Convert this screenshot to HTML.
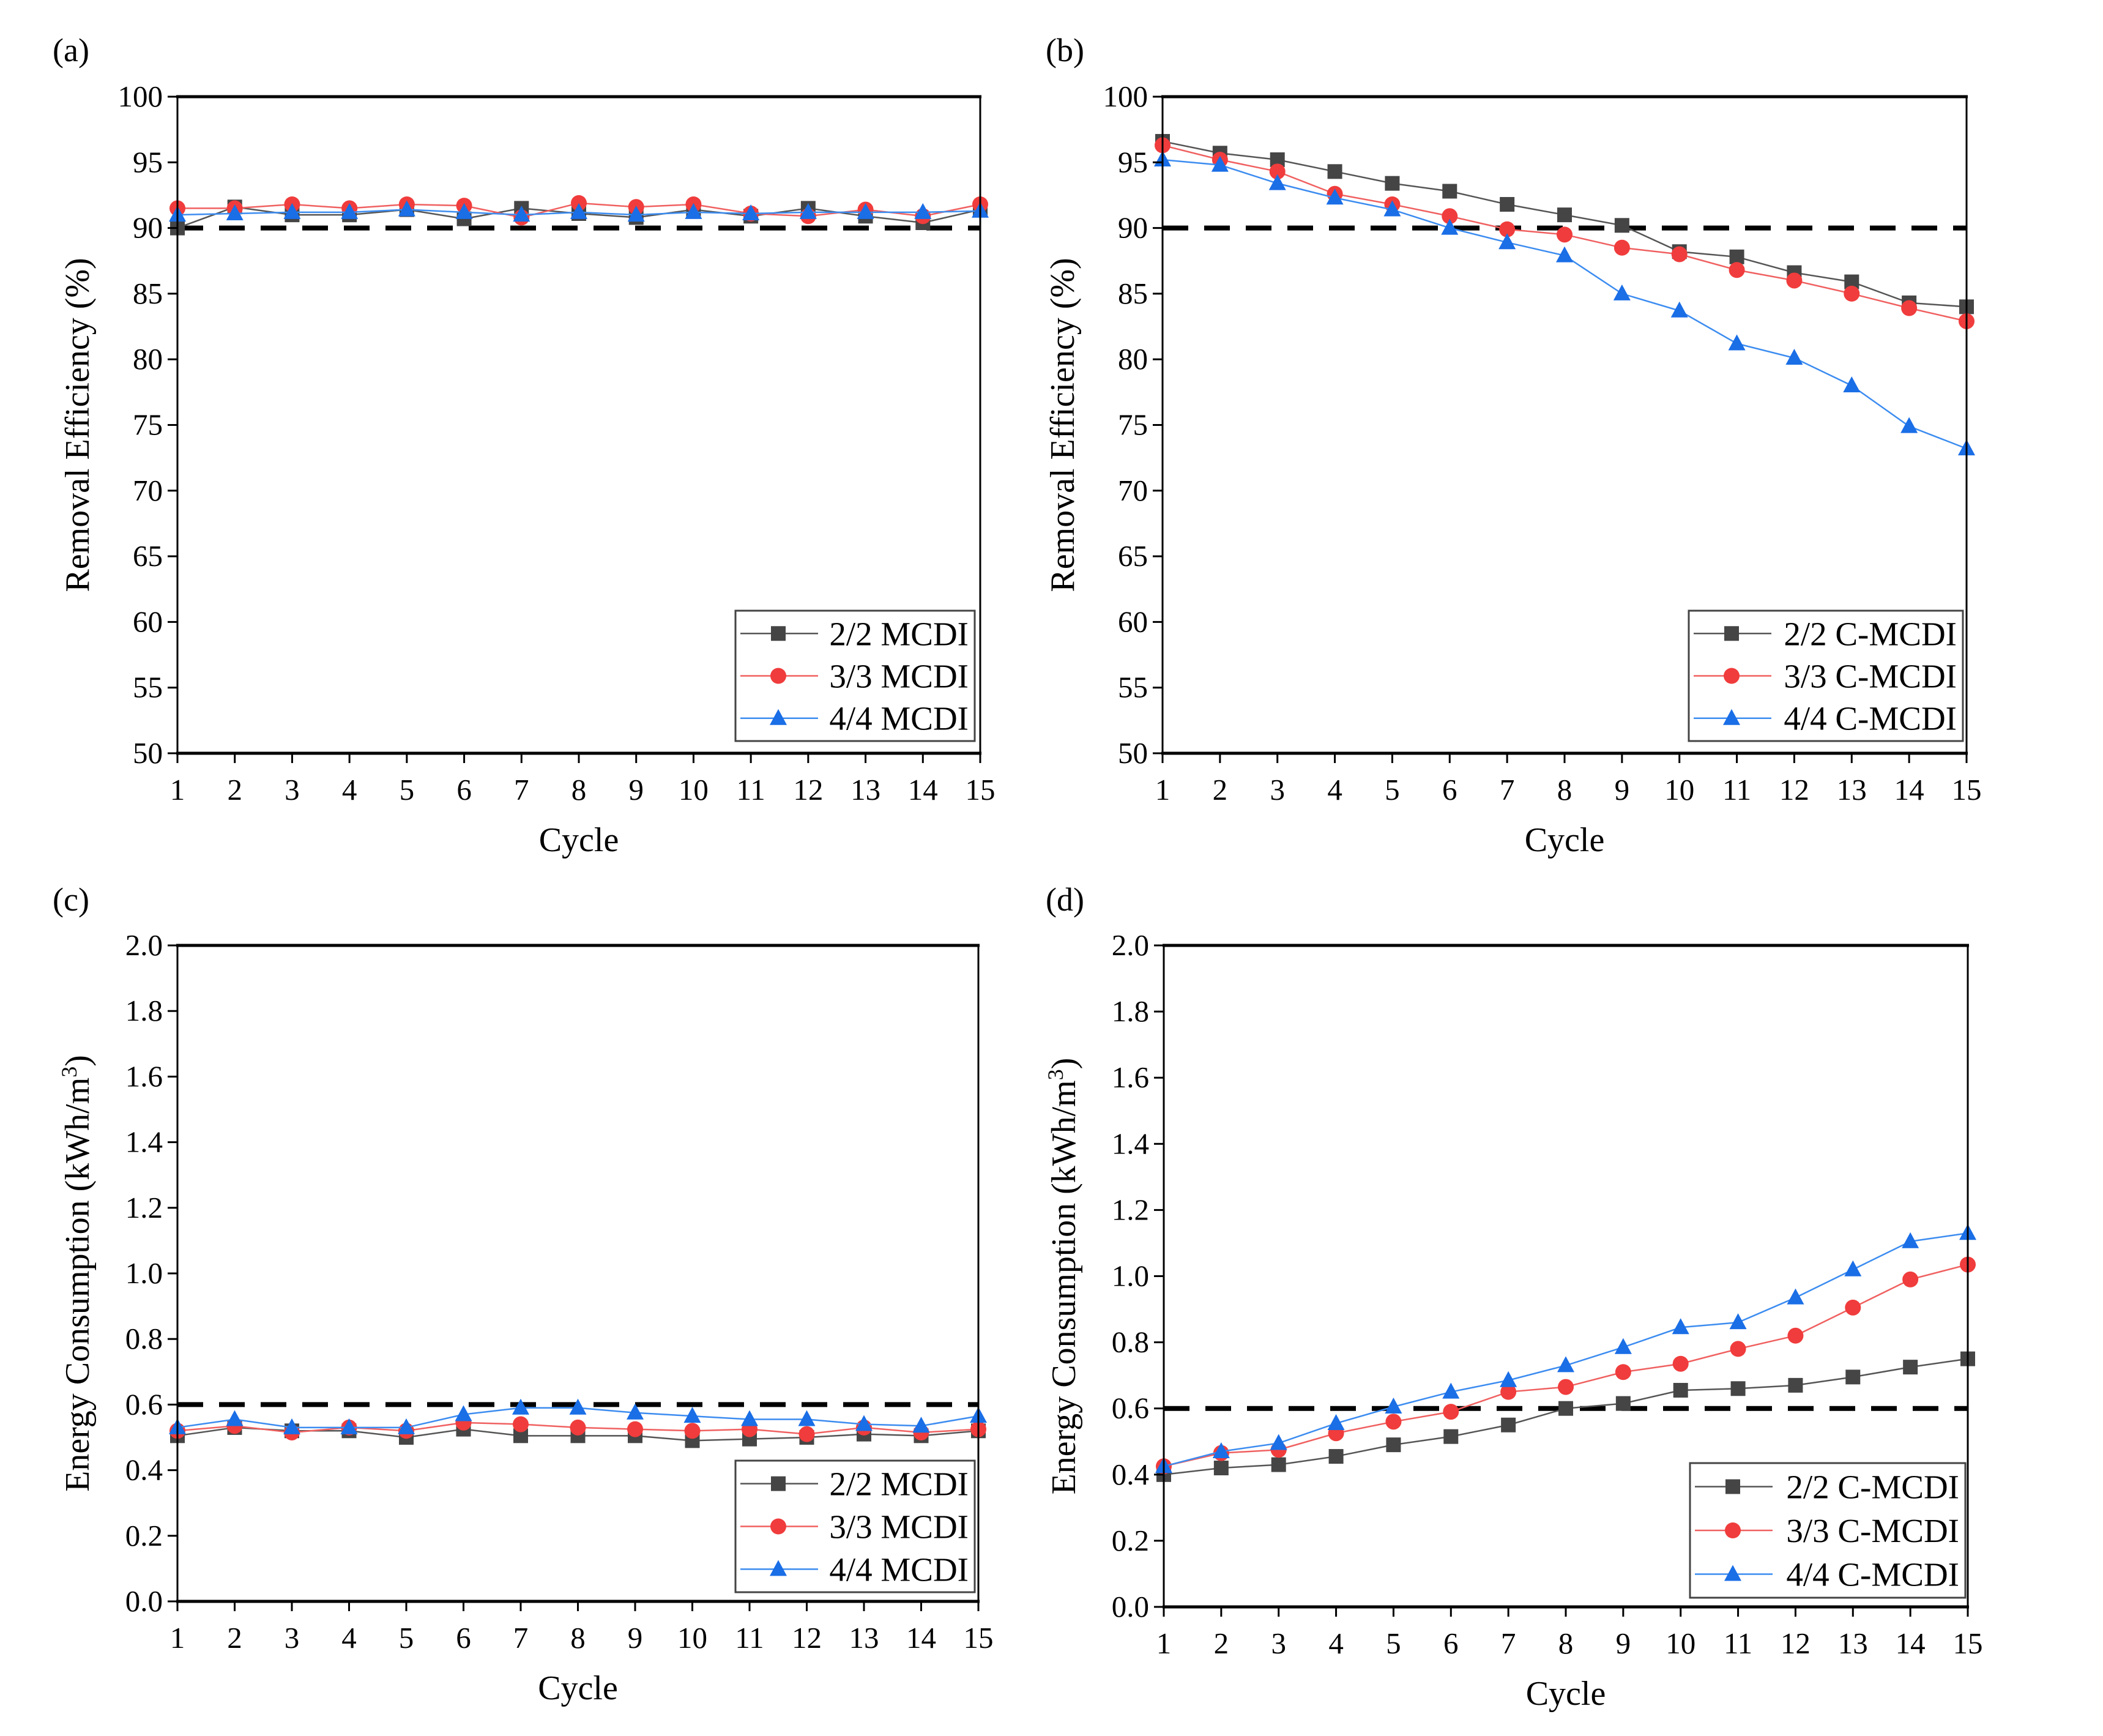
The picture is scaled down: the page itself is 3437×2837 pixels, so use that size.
<!DOCTYPE html>
<html><head><meta charset="utf-8"><style>
html,body{margin:0;padding:0;background:#fff;}
svg{display:block;font-family:"Liberation Serif",serif;}
</style></head><body>
<svg id="fig" width="3437" height="2837" viewBox="0 0 3437 2837" xmlns="http://www.w3.org/2000/svg"></svg>
<script>
const cycles=[1,2,3,4,5,6,7,8,9,10,11,12,13,14,15];
const a22=[90.0,91.6,91.0,91.0,91.4,90.7,91.5,91.1,90.8,91.4,90.9,91.5,90.9,90.4,91.4];
const a33=[91.5,91.5,91.8,91.5,91.8,91.7,90.8,91.9,91.6,91.8,91.1,90.9,91.4,90.9,91.8];
const a44=[91.0,91.1,91.2,91.2,91.4,91.2,91.0,91.2,91.0,91.2,91.1,91.2,91.2,91.2,91.3];
const b22=[96.6,95.7,95.2,94.3,93.4,92.8,91.8,91.0,90.2,88.2,87.8,86.6,85.9,84.3,84.0];
const b33=[96.3,95.2,94.3,92.6,91.8,90.9,89.9,89.5,88.5,88.0,86.8,86.0,85.0,83.9,82.9];
const b44=[95.2,94.8,93.4,92.3,91.4,90.0,88.9,87.9,85.0,83.7,81.2,80.1,78.0,74.9,73.2];
const c22=[0.505,0.53,0.52,0.52,0.50,0.525,0.505,0.505,0.505,0.49,0.495,0.50,0.51,0.505,0.52];
const c33=[0.52,0.535,0.515,0.53,0.52,0.545,0.54,0.53,0.525,0.52,0.525,0.51,0.53,0.515,0.525];
const c44=[0.53,0.555,0.53,0.53,0.53,0.57,0.59,0.59,0.575,0.565,0.555,0.555,0.54,0.535,0.565];
const d22=[0.40,0.42,0.43,0.455,0.49,0.515,0.55,0.60,0.615,0.655,0.66,0.67,0.695,0.725,0.75];
const d33=[0.425,0.465,0.475,0.525,0.56,0.59,0.65,0.665,0.71,0.735,0.78,0.82,0.905,0.99,1.035];
const d44=[0.425,0.47,0.495,0.555,0.605,0.65,0.685,0.73,0.785,0.845,0.86,0.935,1.02,1.105,1.13];
const reTicks=["50","55","60","65","70","75","80","85","90","95","100"];
const ecTicks=["0.0","0.2","0.4","0.6","0.8","1.0","1.2","1.4","1.6","1.8","2.0"];

const NS="http://www.w3.org/2000/svg";
const svg=document.getElementById('fig');
function mk(tag,attrs,parent,text){const e=document.createElementNS(NS,tag);for(const k in attrs)e.setAttribute(k,attrs[k]);if(text!==undefined)e.textContent=text;(parent||svg).appendChild(e);return e;}

const colors=["#454545","#f03c3c","#1a6ee6"];
const lineCol=["#555555","#f06060","#3c8cf0"];
function marker(g,kind,x,y,col){
  let m;
  if(kind===0){m=mk('rect',{x:x-12,y:y-12,width:24,height:24,fill:col},g);}
  else if(kind===1){m=mk('circle',{cx:x,cy:y,r:13,fill:col},g);}
  else {m=mk('polygon',{points:`${x},${y-15} ${x+14},${y+11} ${x-14},${y+11}`,fill:col},g);}
  
  
}

function panel(cfg){
  const g=mk('g',{});
  
  
  const {L,R,T,B,ymin,ymax,ticks,series,labels,thresh}=cfg;
  const xs=v=>L+(v-1)/(14)*(R-L);
  const ys=v=>B-(v-ymin)/(ymax-ymin)*(B-T);
  const lab=mk('text',{x:cfg.lx,y:cfg.ly,'font-size':54},g,cfg.letter);
  
  const th=mk('line',{x1:L,x2:R,y1:ys(thresh),y2:ys(thresh),stroke:'#000','stroke-width':8,'stroke-dasharray':'42 26'},g);
  
  series.forEach((s,si)=>{
    const sg=mk('g',{},g);
    
    
    const pts=s.map((v,i)=>xs(cycles[i])+','+ys(v)).join(' ');
    mk('polyline',{points:pts,fill:'none',stroke:lineCol[si],'stroke-width':2.5},sg);
    s.forEach((v,i)=>marker(sg,si,xs(cycles[i]),ys(v),colors[si]));
  });
  const fr=mk('rect',{x:L,y:T,width:R-L,height:B-T,fill:'none',stroke:'#000','stroke-width':3},g);
  
  mk('line',{x1:L-2,x2:R+2,y1:T,y2:T,stroke:'#000','stroke-width':5},g);
  mk('line',{x1:L-2,x2:R+2,y1:B,y2:B,stroke:'#000','stroke-width':5},g);
  const yax=mk('g',{},g);
  ticks.forEach((t,i)=>{
    const v=ymin+i*(ymax-ymin)/(ticks.length-1);const y=ys(v);
    mk('line',{x1:L-16,x2:L,y1:y,y2:y,stroke:'#000','stroke-width':3},yax);
    mk('text',{x:L-24,y:y+16,'font-size':49,'text-anchor':'end'},yax,t);
  });
  const xax=mk('g',{},g);
  cycles.forEach(c=>{
    const x=xs(c);
    mk('line',{x1:x,x2:x,y1:B,y2:B+16,stroke:'#000','stroke-width':3},xax);
    mk('text',{x:x,y:B+76,'font-size':49,'text-anchor':'middle'},xax,String(c));
  });
  const xt=mk('text',{x:(L+R)/2,y:B+160,'font-size':56,'text-anchor':'middle'},g,'Cycle');
  
  const cy=(T+B)/2, tx=L-145;
  const yt=mk('text',{x:tx,y:cy,'font-size':56,'text-anchor':'middle',transform:`rotate(-90 ${tx} ${cy})`},g);
  
  if(cfg.energy){
    mk('tspan',{},yt,'Energy Consumption (kWh/m');
    mk('tspan',{dy:-20,'font-size':36},yt,'3');
    mk('tspan',{dy:20},yt,')');
  } else yt.textContent='Removal Efficiency (%)';
  const lg=mk('g',{},g);
  const [lx,ly,lw,lh]=cfg.leg;
  mk('rect',{x:lx,y:ly,width:lw,height:lh,fill:'#fff',stroke:'#444','stroke-width':3},lg);
  labels.forEach((lb,i)=>{
    const e=mk('g',{},lg);
    const yy=ly+lh*(0.175+0.325*i);
    mk('line',{x1:lx+8,x2:lx+135,y1:yy,y2:yy,stroke:lineCol[i],'stroke-width':2.5},e);
    marker(e,i,lx+70,yy,colors[i]);
    mk('text',{x:lx+lw-10,y:yy+19,'font-size':55,'text-anchor':'end'},e,lb);
  });
}
const mcdi=["2/2 MCDI","3/3 MCDI","4/4 MCDI"], cm=["2/2 C-MCDI","3/3 C-MCDI","4/4 C-MCDI"];
panel({name:'panel-a',letter:'(a)',lx:86,ly:100,L:290,R:1602,T:158,B:1231,ymin:50,ymax:100,ticks:reTicks,series:[a22,a33,a44],labels:mcdi,thresh:90,leg:[1202,998,391,213]});
panel({name:'panel-b',letter:'(b)',lx:1709,ly:100,L:1900,R:3214,T:158,B:1231,ymin:50,ymax:100,ticks:reTicks,series:[b22,b33,b44],labels:cm,thresh:90,leg:[2760,998,448,213]});
panel({name:'panel-c',letter:'(c)',lx:86,ly:1488,L:290,R:1599,T:1545,B:2617,ymin:0,ymax:2,ticks:ecTicks,series:[c22,c33,c44],labels:mcdi,thresh:0.6,leg:[1202,2387,391,215],energy:true});
panel({name:'panel-d',letter:'(d)',lx:1709,ly:1488,L:1902,R:3216,T:1545,B:2626,ymin:0,ymax:2,ticks:ecTicks,series:[d22,d33,d44],labels:cm,thresh:0.6,leg:[2762,2391,450,220],energy:true});
</script>
</body></html>
